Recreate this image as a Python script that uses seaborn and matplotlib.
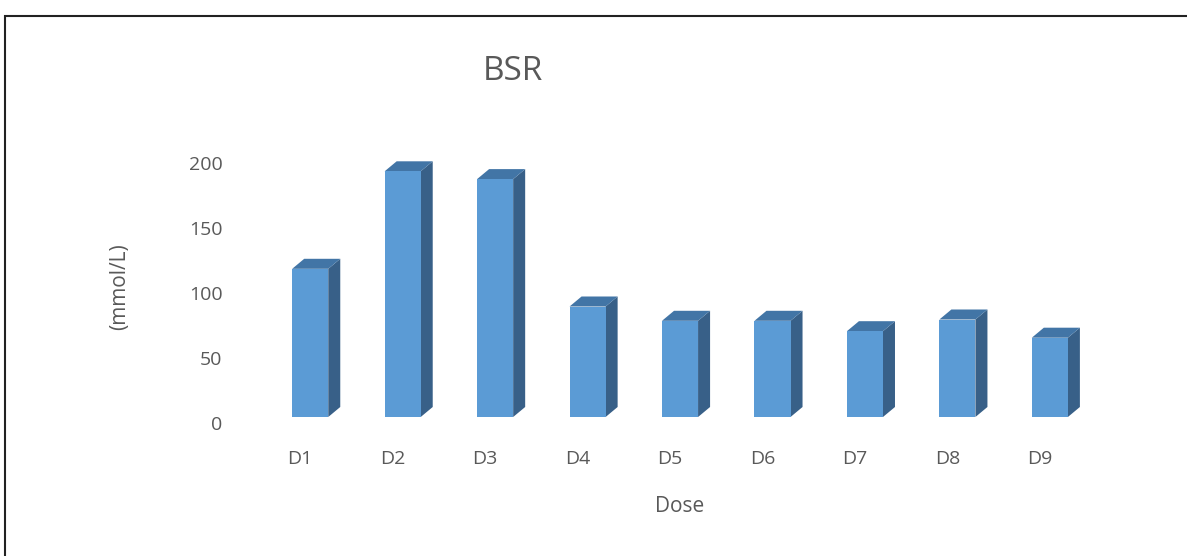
import seaborn as sns
import pandas as pd
import matplotlib.pyplot as plt
import matplotlib.transforms as mtransforms
from matplotlib.patches import Polygon, Rectangle

doses = ["D1", "D2", "D3", "D4", "D5", "D6", "D7", "D8", "D9"]
bsr = [114, 189, 183, 85, 74, 74, 66, 75, 61]

df = pd.DataFrame({"dose": doses, "bsr": bsr})

sns.set_style("white")
plt.rcParams["font.family"] = ["Open Sans", "DejaVu Sans"]

front = "#5B9BD5"
side = "#386088"
top = "#4275A6"
grey = "#595959"

fig = plt.figure(figsize=(11.87, 5.56), dpi=100)
ax = fig.add_axes([0.2224, 0.25, 0.701, 0.4676])

sns.barplot(data=df, x="dose", y="bsr", color=front, width=0.39,
            saturation=1, linewidth=0, ax=ax, zorder=3)

# fake 3d: side and top faces built from each bar
dx, dy = 0.13, 7.7
for p in ax.patches[:]:
    x0, w, h = p.get_x(), p.get_width(), p.get_height()
    x1 = x0 + w
    ax.add_patch(Polygon([(x1, 0), (x1 + dx, dy), (x1 + dx, h + dy), (x1, h)],
                         closed=True, facecolor=side, edgecolor="none", zorder=2))
    ax.add_patch(Polygon([(x0, h), (x0 + dx, h + dy), (x1 + dx, h + dy), (x1, h)],
                         closed=True, facecolor=top, edgecolor="none", zorder=2))

ax.set_ylim(0, 200)
ax.set_xlim(-0.5, 8.5)
ax.set_yticks([0, 50, 100, 150, 200])
for s in ax.spines.values():
    s.set_visible(False)
ax.tick_params(axis="y", length=0, pad=30, labelsize=14, labelcolor=grey)
ax.tick_params(axis="x", length=0, pad=24, labelsize=14, labelcolor=grey)

# shift labels like the Excel layout
shift_x = mtransforms.ScaledTranslation(-10 / 100, 0, fig.dpi_scale_trans)
for lab in ax.get_xticklabels():
    lab.set_transform(lab.get_transform() + shift_x)
shift_y = mtransforms.ScaledTranslation(0, -6 / 100, fig.dpi_scale_trans)
for lab in ax.get_yticklabels():
    lab.set_transform(lab.get_transform() + shift_y)

ax.set_xlabel("Dose", fontsize=15, color=grey, labelpad=20)
ax.set_ylabel("(mmol/L)", fontsize=15, color=grey, labelpad=42)
fig.text(0.432, 0.872, "BSR", fontsize=24, color=grey, ha="center", va="center")

# chart frame
fig.patches.append(Rectangle((5 / 1187, -0.1), 1.2, 1 - 16 / 556 + 0.1,
                             transform=fig.transFigure, fill=False,
                             edgecolor="#222222", linewidth=1.5))

plt.savefig("out.png", dpi=100)
